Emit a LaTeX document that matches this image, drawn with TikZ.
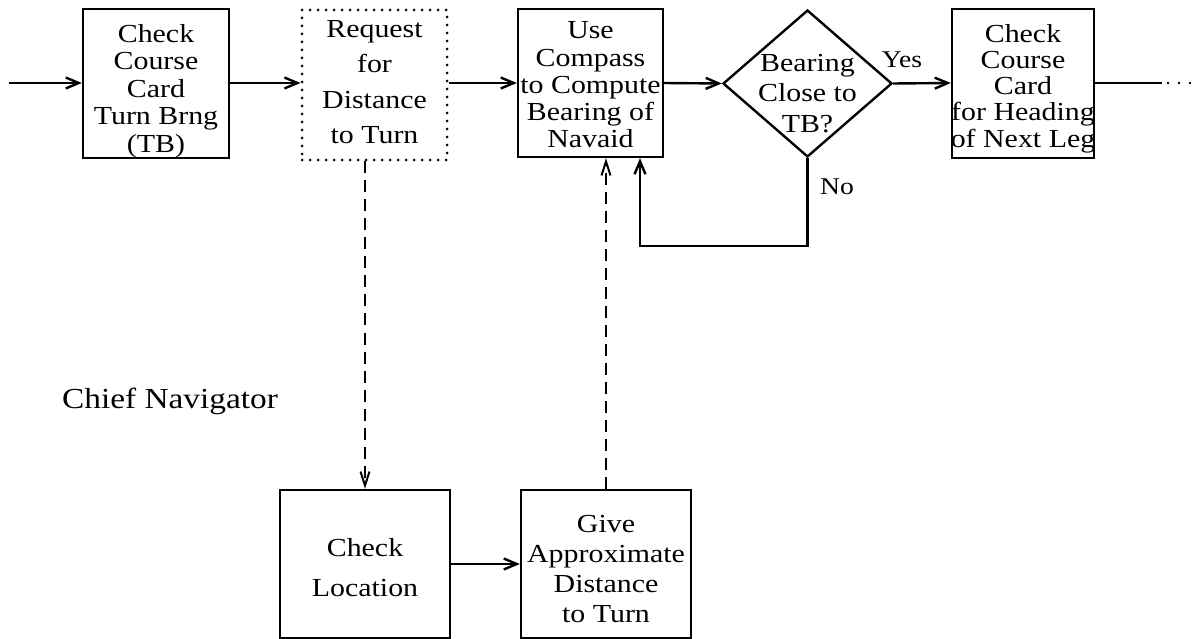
\documentclass[tikz,border=0pt]{standalone}
\usepackage{fontspec}
\setmainfont{Liberation Serif}[FakeStretch=1.15]
\usetikzlibrary{arrows.meta,shapes.geometric,calc}
\tikzset{
  >={Straight Barb[length=13pt,width=11pt]},
  blk/.style={draw,line width=2.4pt,inner sep=0pt},
  dotblk/.style={blk,line width=3pt,line cap=round,dash pattern=on 0pt off 8pt},
  dec/.style={draw,shape=diamond,line width=2.4pt,inner sep=0pt},
  txt/.style={align=center,inner sep=0pt,font=\fontsize{26}{#1}\selectfont},
  txt/.default=27.5,
  lab/.style={font=\fontsize{24}{24}\selectfont},
  arr/.style={->,line width=2.4pt},
  darr/.style={-{Straight Barb[length=14pt,width=9pt]},line width=2pt,dash pattern=on 12pt off 7pt},
}
\begin{document}
\begin{tikzpicture}[x=1pt,y=-1pt]
\useasboundingbox (0,0) rectangle (1195,639);
\coordinate (row) at (0,83);
% top row
\node[blk,minimum width=146,minimum height=149] (ccard) at (156,83.5) {};
\node[txt] (ccardtx) at ([yshift=-7.5pt]ccard.center) {Check\\Course\\Card\\Turn Brng\\(TB)};
\node[dotblk,minimum width=145,minimum height=150] (req) at (374.5,85) {};
\node[txt=35.5] (reqtx) at ([yshift=3pt]req.center) {Request\\for\\Distance\\to Turn};
\node[blk,minimum width=145,minimum height=148] (comp) at (590.5,83) {};
\node[txt=27.25] (comptx) at ([yshift=-2pt]comp.center) {Use\\Compass\\to Compute\\Bearing of\\Navaid};
\node[dec,minimum width=169,minimum height=147] (bclose) at (807.5,83.5) {};
\node[txt=30.5] (bclosetx) at ([yshift=-10pt]bclose.center) {Bearing\\Close to\\TB?};
\node[blk,minimum width=142,minimum height=149] (nxtleg) at (1023,83.5) {};
\node[txt=26.25] (nxtlegtx) at ([yshift=-5pt]nxtleg.center) {Check\\Course\\Card\\for Heading\\of Next Leg};
\node[lab] (yes) at (902,60) {Yes};
\node[lab] (no) at (837,187) {No};
% bottom row
\node[font=\fontsize{29}{29}\selectfont] (chief) at (170,401) {Chief Navigator};
\node[blk,minimum width=170,minimum height=148] (chkloc) at (365,564) {};
\node[txt=40] (chkloctx) at ([yshift=-4pt]chkloc.center) {Check\\Location};
\node[blk,minimum width=170,minimum height=148] (givedist) at (606,564) {};
\node[txt=30.3] (givedisttx) at ([yshift=-5pt]givedist.center) {Give\\Approximate\\Distance\\to Turn};
\coordinate (start) at (9,83);
\coordinate (exitA) at (1162,83);
\coordinate (exitB) at (1192,83);
\coordinate (loopc) at (640,246);
% connectors
\draw[arr] (start) -- (ccard.west |- row);
\draw[arr] (ccard.east |- row) -- (req.west |- row);
\draw[arr] (req.east |- row) -- (comp.west |- row);
\draw[arr] (comp.east |- row) -- (bclose.west);
\draw[arr] (bclose.east) -- (nxtleg.west |- row);
\draw[line width=2.4pt] (nxtleg.east |- row) -- (exitA);
\draw[line width=2.6pt,line cap=round,dash pattern=on 0pt off 11pt] ($(exitA)+(6,0)$) -- (exitB);
\draw[arr] (bclose.south) |- (loopc) -- (loopc |- comp.south);
\draw[darr] (req.south -| chkloc.north) -- (chkloc.north);
\draw[darr] (givedist.north) -- (givedist.north |- comp.south);
\draw[arr] (chkloc) -- (givedist);
\end{tikzpicture}
\end{document}
